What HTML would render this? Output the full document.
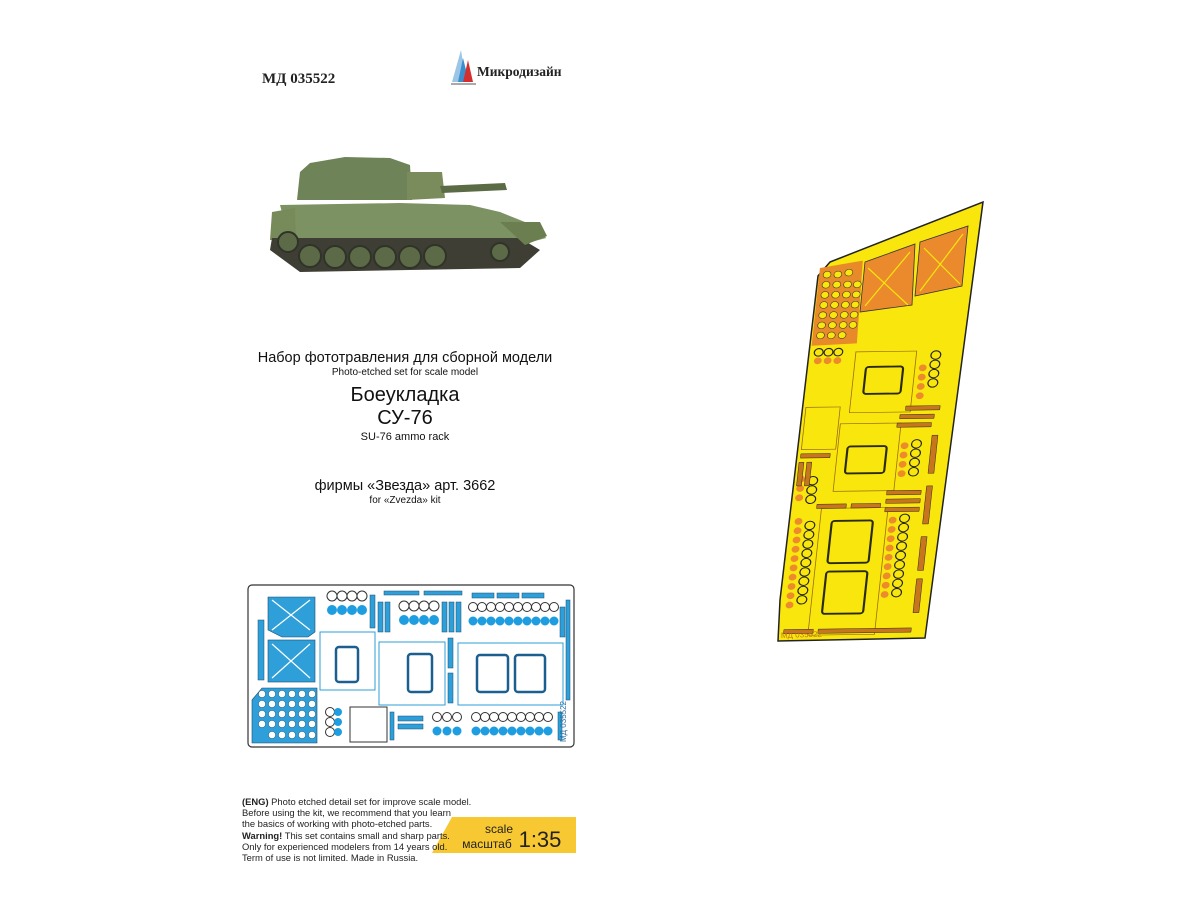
<!DOCTYPE html>
<html><head><meta charset="utf-8"><style>
html,body{margin:0;padding:0;background:#fff;}
body{width:1200px;height:900px;position:relative;overflow:hidden;font-family:"Liberation Sans",sans-serif;color:#111;}
.t{position:absolute;left:205px;width:400px;text-align:center;white-space:nowrap;}
</style></head><body>
<svg width="1200" height="900" style="position:absolute;left:0;top:0" xmlns="http://www.w3.org/2000/svg">
<!-- header -->
<text x="262" y="83" font-family="Liberation Serif,serif" font-weight="bold" font-size="15" fill="#222">МД 035522</text>
<polygon points="452,82 461,50 466,82" fill="#9cc6e6"/>
<polygon points="458,82 463,58 469,82" fill="#3a8fd0"/>
<polygon points="463,82 468,60 473,82" fill="#d23030"/>
<line x1="451" y1="84" x2="476" y2="84" stroke="#555" stroke-width="1"/>
<text x="477" y="76" font-family="Liberation Serif,serif" font-weight="bold" font-size="13.5" fill="#222">Микродизайн</text>

<!-- tank -->
<g>
<path d="M297,200 L300,172 L310,163 L345,157 L390,158 L410,165 L412,200 Z" fill="#6f8358"/>
<path d="M407,172 L442,172 L445,198 L407,200 Z" fill="#7a8c5c"/>
<path d="M440,186 L505,183 L507,190 L442,193 Z" fill="#5b6b45"/>
<path d="M280,205 L400,203 L470,205 L500,212 L540,228 L546,238 L520,245 L290,242 Z" fill="#7d9262"/>
<path d="M272,212 L295,208 L296,240 L270,240 Z" fill="#768a5a"/>
<path d="M272,238 L520,238 L540,250 L520,268 L300,272 L270,250 Z" fill="#3e3e34"/>
<g fill="#5c6a48" stroke="#2f3328" stroke-width="2">
<circle cx="288" cy="242" r="10"/><circle cx="310" cy="256" r="11"/><circle cx="335" cy="257" r="11"/><circle cx="360" cy="257" r="11"/><circle cx="385" cy="257" r="11"/><circle cx="410" cy="257" r="11"/><circle cx="435" cy="256" r="11"/><circle cx="500" cy="252" r="9"/>
</g>
<path d="M500,222 L540,222 L547,236 L525,245 Z" fill="#6b7e50"/>
</g>

<!-- blue fret -->
<g>
<rect x="248" y="585" width="326" height="162" rx="4" fill="#fff" stroke="#333" stroke-width="1.2"/>
<g fill="#2e9fd8" stroke="#1a4f70" stroke-width="0.6">
<path d="M268,597 H315 V632 L308,637 H282 L268,630 Z"/>
<rect x="268" y="640" width="47" height="42"/>
<path d="M252,700 L262,688 H317 V743 H252 Z"/>
</g>
<g stroke="#fff" stroke-width="1.2"><line x1="272" y1="600" x2="310" y2="630"/><line x1="310" y1="600" x2="272" y2="630"/><line x1="272" y1="644" x2="310" y2="678"/><line x1="310" y1="644" x2="272" y2="678"/></g>
<g fill="#fff" stroke="#1a4f70" stroke-width="0.5">
<circle cx="262" cy="694" r="3.6"/><circle cx="272" cy="694" r="3.6"/><circle cx="282" cy="694" r="3.6"/><circle cx="292" cy="694" r="3.6"/><circle cx="302" cy="694" r="3.6"/><circle cx="312" cy="694" r="3.6"/>
<circle cx="262" cy="704" r="3.6"/><circle cx="272" cy="704" r="3.6"/><circle cx="282" cy="704" r="3.6"/><circle cx="292" cy="704" r="3.6"/><circle cx="302" cy="704" r="3.6"/><circle cx="312" cy="704" r="3.6"/>
<circle cx="262" cy="714" r="3.6"/><circle cx="272" cy="714" r="3.6"/><circle cx="282" cy="714" r="3.6"/><circle cx="292" cy="714" r="3.6"/><circle cx="302" cy="714" r="3.6"/><circle cx="312" cy="714" r="3.6"/>
<circle cx="262" cy="724" r="3.6"/><circle cx="272" cy="724" r="3.6"/><circle cx="282" cy="724" r="3.6"/><circle cx="292" cy="724" r="3.6"/><circle cx="302" cy="724" r="3.6"/><circle cx="312" cy="724" r="3.6"/>
<circle cx="272" cy="735" r="3.6"/><circle cx="282" cy="735" r="3.6"/><circle cx="292" cy="735" r="3.6"/><circle cx="302" cy="735" r="3.6"/><circle cx="312" cy="735" r="3.6"/>
</g>
<g fill="#fff" stroke="#2e9fd8" stroke-width="1">
<rect x="320" y="632" width="55" height="58"/>
<rect x="379" y="642" width="66" height="63"/>
<rect x="458" y="643" width="105" height="62"/>
<rect x="350" y="707" width="37" height="35" stroke="#333"/>
</g>
<g fill="#fff" stroke="#1a5f90" stroke-width="2.5">
<rect x="336" y="647" width="22" height="35" rx="3"/>
<rect x="408" y="654" width="24" height="38" rx="3"/>
<rect x="477" y="655" width="31" height="37" rx="3"/>
<rect x="515" y="655" width="30" height="37" rx="3"/>
</g>
<g fill="#fff" stroke="#333" stroke-width="1">
<circle cx="332" cy="596" r="5"/><circle cx="342" cy="596" r="5"/><circle cx="352" cy="596" r="5"/><circle cx="362" cy="596" r="5"/>
<circle cx="404" cy="606" r="5"/><circle cx="414" cy="606" r="5"/><circle cx="424" cy="606" r="5"/><circle cx="434" cy="606" r="5"/>
<circle cx="473" cy="607" r="4.5"/><circle cx="482" cy="607" r="4.5"/><circle cx="491" cy="607" r="4.5"/><circle cx="500" cy="607" r="4.5"/><circle cx="509" cy="607" r="4.5"/><circle cx="518" cy="607" r="4.5"/><circle cx="527" cy="607" r="4.5"/><circle cx="536" cy="607" r="4.5"/><circle cx="545" cy="607" r="4.5"/><circle cx="554" cy="607" r="4.5"/>
<circle cx="476" cy="717" r="4.5"/><circle cx="485" cy="717" r="4.5"/><circle cx="494" cy="717" r="4.5"/><circle cx="503" cy="717" r="4.5"/><circle cx="512" cy="717" r="4.5"/><circle cx="521" cy="717" r="4.5"/><circle cx="530" cy="717" r="4.5"/><circle cx="539" cy="717" r="4.5"/><circle cx="548" cy="717" r="4.5"/>
<circle cx="437" cy="717" r="4.5"/><circle cx="447" cy="717" r="4.5"/><circle cx="457" cy="717" r="4.5"/>
<circle cx="330" cy="712" r="4.5"/><circle cx="330" cy="722" r="4.5"/><circle cx="330" cy="732" r="4.5"/>
</g>
<g fill="#1e9ee0">
<circle cx="332" cy="610" r="5"/><circle cx="342" cy="610" r="5"/><circle cx="352" cy="610" r="5"/><circle cx="362" cy="610" r="5"/>
<circle cx="404" cy="620" r="5"/><circle cx="414" cy="620" r="5"/><circle cx="424" cy="620" r="5"/><circle cx="434" cy="620" r="5"/>
<circle cx="473" cy="621" r="4.5"/><circle cx="482" cy="621" r="4.5"/><circle cx="491" cy="621" r="4.5"/><circle cx="500" cy="621" r="4.5"/><circle cx="509" cy="621" r="4.5"/><circle cx="518" cy="621" r="4.5"/><circle cx="527" cy="621" r="4.5"/><circle cx="536" cy="621" r="4.5"/><circle cx="545" cy="621" r="4.5"/><circle cx="554" cy="621" r="4.5"/>
<circle cx="476" cy="731" r="4.5"/><circle cx="485" cy="731" r="4.5"/><circle cx="494" cy="731" r="4.5"/><circle cx="503" cy="731" r="4.5"/><circle cx="512" cy="731" r="4.5"/><circle cx="521" cy="731" r="4.5"/><circle cx="530" cy="731" r="4.5"/><circle cx="539" cy="731" r="4.5"/><circle cx="548" cy="731" r="4.5"/>
<circle cx="437" cy="731" r="4.5"/><circle cx="447" cy="731" r="4.5"/><circle cx="457" cy="731" r="4.5"/>
<circle cx="338" cy="712" r="4"/><circle cx="338" cy="722" r="4"/><circle cx="338" cy="732" r="4"/>
</g>
<g fill="#2e9fd8" stroke="#1a4f70" stroke-width="0.5">
<rect x="370" y="595" width="5" height="33"/><rect x="378" y="602" width="5" height="30"/><rect x="385" y="602" width="5" height="30"/>
<rect x="442" y="602" width="5" height="30"/><rect x="449" y="602" width="5" height="30"/><rect x="456" y="602" width="5" height="30"/>
<rect x="448" y="638" width="5" height="30"/><rect x="448" y="673" width="5" height="30"/>
<rect x="560" y="607" width="5" height="30"/><rect x="566" y="600" width="4" height="100"/>
<rect x="472" y="593" width="22" height="5"/><rect x="497" y="593" width="22" height="5"/><rect x="522" y="593" width="22" height="5"/>
<rect x="384" y="591" width="35" height="4"/><rect x="424" y="591" width="38" height="4"/>
<rect x="398" y="716" width="25" height="5"/><rect x="398" y="724" width="25" height="5"/>
<rect x="390" y="712" width="4" height="28"/><rect x="558" y="712" width="4" height="28"/>
<rect x="258" y="620" width="6" height="60"/>
</g>
<text x="566" y="742" font-size="8" fill="#2e6fa0" transform="rotate(-90 566 742)">МД 035522</text>
</g>

<!-- yellow fret -->
<polygon points="830,262 983,202 925,638 778,641 780,600 818,276" fill="#f8e60c" stroke="#222" stroke-width="1.5"/>
<g transform="matrix(0.98,-0.013,-0.091,0.845,818,268)">
<path d="M2,0 L45,-8 L48,90 L2,92 Z" fill="#e98a2a"/>
<g fill="#f8e60c" stroke="#333" stroke-width="0.6">
<circle cx="10" cy="8" r="4"/><circle cx="21" cy="8" r="4"/><circle cx="32" cy="6" r="4"/>
<circle cx="10" cy="20" r="4"/><circle cx="21" cy="20" r="4"/><circle cx="32" cy="20" r="4"/><circle cx="42" cy="20" r="4"/>
<circle cx="10" cy="32" r="4"/><circle cx="21" cy="32" r="4"/><circle cx="32" cy="32" r="4"/><circle cx="42" cy="32" r="4"/>
<circle cx="10" cy="44" r="4"/><circle cx="21" cy="44" r="4"/><circle cx="32" cy="44" r="4"/><circle cx="42" cy="44" r="4"/>
<circle cx="10" cy="56" r="4"/><circle cx="21" cy="56" r="4"/><circle cx="32" cy="56" r="4"/><circle cx="42" cy="56" r="4"/>
<circle cx="10" cy="68" r="4"/><circle cx="21" cy="68" r="4"/><circle cx="32" cy="68" r="4"/><circle cx="42" cy="68" r="4"/>
<circle cx="10" cy="80" r="4"/><circle cx="21" cy="80" r="4"/><circle cx="32" cy="80" r="4"/>
</g>
<g fill="#f8e60c" stroke="#9a6a10" stroke-width="0.8">
<rect x="48" y="100" width="62" height="72"/><rect x="40" y="185" width="62" height="80"/><rect x="30" y="285" width="68" height="150"/>
<rect x="3" y="165" width="35" height="50"/>
</g>
<g fill="#f8e60c" stroke="#2a2a10" stroke-width="2.2">
<rect x="60" y="118" width="38" height="32" rx="3"/><rect x="50" y="212" width="40" height="32" rx="3"/>
<rect x="42" y="300" width="42" height="50" rx="3"/><rect x="42" y="360" width="42" height="50" rx="3"/>
</g>
<g fill="#ec8a2c">
<circle cx="118" cy="120" r="4"/><circle cx="118" cy="131" r="4"/><circle cx="118" cy="142" r="4"/><circle cx="118" cy="153" r="4"/>
<circle cx="108" cy="212" r="4"/><circle cx="108" cy="223" r="4"/><circle cx="108" cy="234" r="4"/><circle cx="108" cy="245" r="4"/>
<circle cx="104" cy="300" r="4"/><circle cx="104" cy="311" r="4"/><circle cx="104" cy="322" r="4"/><circle cx="104" cy="333" r="4"/><circle cx="104" cy="344" r="4"/><circle cx="104" cy="355" r="4"/><circle cx="104" cy="366" r="4"/><circle cx="104" cy="377" r="4"/><circle cx="104" cy="388" r="4"/>
<circle cx="8" cy="300" r="4"/><circle cx="8" cy="311" r="4"/><circle cx="8" cy="322" r="4"/><circle cx="8" cy="333" r="4"/><circle cx="8" cy="344" r="4"/><circle cx="8" cy="355" r="4"/><circle cx="8" cy="366" r="4"/><circle cx="8" cy="377" r="4"/><circle cx="8" cy="388" r="4"/><circle cx="8" cy="399" r="4"/>
<circle cx="6" cy="250" r="4"/><circle cx="6" cy="261" r="4"/><circle cx="6" cy="272" r="4"/>
<circle cx="10" cy="110" r="4"/><circle cx="20" cy="110" r="4"/><circle cx="30" cy="110" r="4"/>
</g>
<g fill="#f8e60c" stroke="#222" stroke-width="1.2">
<circle cx="130" cy="105" r="5"/><circle cx="130" cy="116" r="5"/><circle cx="130" cy="127" r="5"/><circle cx="130" cy="138" r="5"/>
<circle cx="120" cy="210" r="5"/><circle cx="120" cy="221" r="5"/><circle cx="120" cy="232" r="5"/><circle cx="120" cy="243" r="5"/>
<circle cx="116" cy="298" r="5"/><circle cx="116" cy="309" r="5"/><circle cx="116" cy="320" r="5"/><circle cx="116" cy="331" r="5"/><circle cx="116" cy="342" r="5"/><circle cx="116" cy="353" r="5"/><circle cx="116" cy="364" r="5"/><circle cx="116" cy="375" r="5"/><circle cx="116" cy="386" r="5"/>
<circle cx="20" cy="305" r="5"/><circle cx="20" cy="316" r="5"/><circle cx="20" cy="327" r="5"/><circle cx="20" cy="338" r="5"/><circle cx="20" cy="349" r="5"/><circle cx="20" cy="360" r="5"/><circle cx="20" cy="371" r="5"/><circle cx="20" cy="382" r="5"/><circle cx="20" cy="393" r="5"/>
<circle cx="18" cy="252" r="5"/><circle cx="18" cy="263" r="5"/><circle cx="18" cy="274" r="5"/>
<circle cx="10" cy="100" r="4.5"/><circle cx="20" cy="100" r="4.5"/><circle cx="30" cy="100" r="4.5"/>
</g>
<g fill="#c8761e" stroke="#222" stroke-width="0.5">
<rect x="105" y="165" width="35" height="5"/><rect x="100" y="175" width="35" height="5"/><rect x="98" y="185" width="35" height="5"/>
<rect x="95" y="265" width="35" height="5"/><rect x="95" y="275" width="35" height="5"/><rect x="95" y="285" width="35" height="5"/>
<rect x="135" y="200" width="6" height="45"/><rect x="135" y="260" width="6" height="45"/><rect x="135" y="320" width="6" height="40"/><rect x="135" y="370" width="6" height="40"/>
<rect x="3" y="220" width="30" height="5"/><rect x="2" y="230" width="5" height="28"/><rect x="10" y="230" width="5" height="28"/>
<rect x="25" y="280" width="30" height="5"/><rect x="60" y="280" width="30" height="5"/>
<rect x="40" y="428" width="95" height="5"/><rect x="5" y="428" width="30" height="5"/>
</g>
</g>
<g>
<polygon points="865,262 915,244 912,305 860,312" fill="#ea8a2c" stroke="#333" stroke-width="0.8"/>
<polygon points="920,242 968,226 962,286 915,296" fill="#ea8a2c" stroke="#333" stroke-width="0.8"/>
<g stroke="#f8e60c" stroke-width="1.2"><line x1="868" y1="268" x2="908" y2="305"/><line x1="910" y1="252" x2="865" y2="306"/><line x1="924" y1="248" x2="960" y2="284"/><line x1="963" y1="234" x2="920" y2="291"/></g>
</g>
<text x="781" y="638" font-size="8" fill="#c8761e" transform="rotate(-2 781 638)">МД 035522</text>

<polygon points="452,817 576,817 576,853 432,853" fill="#f8c832"/>
<text x="499" y="833" font-size="12" text-anchor="middle" fill="#222">scale</text>
<text x="487" y="848" font-size="12" text-anchor="middle" fill="#222">масштаб</text>
<text x="540" y="847" font-size="22" text-anchor="middle" fill="#222">1:35</text>
</svg>

<div class="t" style="top:350px;font-size:14.5px">Набор фототравления для сборной модели</div>
<div class="t" style="top:367px;font-size:10px">Photo-etched set for scale model</div>
<div class="t" style="top:384px;font-size:20px">Боеукладка</div>
<div class="t" style="top:407px;font-size:20px">СУ-76</div>
<div class="t" style="top:431px;font-size:11px">SU-76 ammo rack</div>
<div class="t" style="top:478px;font-size:14.5px">фирмы «Звезда» арт. 3662</div>
<div class="t" style="top:495px;font-size:10px">for «Zvezda» kit</div>

<div style="position:absolute;left:242px;top:796px;font-size:9.4px;line-height:11.2px;white-space:nowrap;color:#222">
<b>(ENG)</b> Photo etched detail set for improve scale model.<br>
Before using the kit, we recommend that you learn<br>
the basics of working with photo-etched parts.<br>
<b>Warning!</b> This set contains small and sharp parts.<br>
Only for experienced modelers from 14 years old.<br>
Term of use is not limited. Made in Russia.
</div>
</body></html>
